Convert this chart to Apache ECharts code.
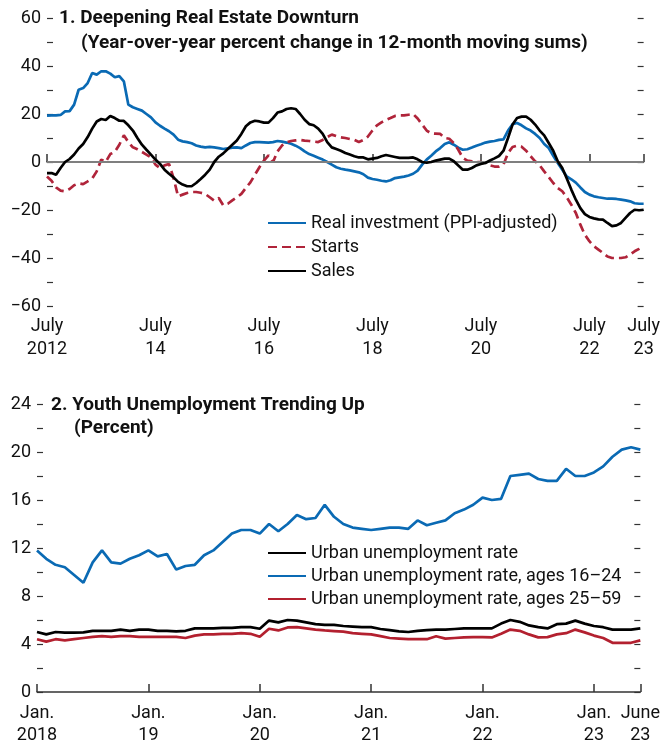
<!DOCTYPE html>
<html>
<head>
<meta charset="utf-8">
<script src="https://cdn.jsdelivr.net/npm/echarts@6/dist/echarts.min.js"></script>
<style>
  html, body { margin: 0; padding: 0; background: #fff; }
  #chart { width: 663px; height: 746px; }
</style>
</head>
<body>
<div id="chart"></div>
<script>
// ---- 数据 ----
// panel 1: monthly, July 2012 - July 2023
var months1 = [];
for (var i = 0; i < 133; i++) {
    var mm = 6 + i;
    var yy = 2012 + Math.floor(mm / 12);
    months1.push(yy + '-' + ('0' + (mm % 12 + 1)).slice(-2));
}
var investment = [
    19.3, 19.4, 19.4, 19.6, 21.1, 21.2, 23.9, 30.1, 30.8, 32.9, 37.1, 36.4, 37.8, 37.8, 36.8, 35.3, 35.8, 33.6,
    23.9, 22.8, 22.1, 21.4, 20.0, 18.6, 16.5, 15.1, 13.9, 12.8, 11.4, 9.3, 8.6, 8.3, 7.8, 6.9, 6.4, 6.1,
    6.3, 6.1, 5.8, 5.4, 5.7, 6.0, 6.1, 5.8, 6.9,
    7.9, 8.3, 8.3, 8.2, 8.1, 8.3, 8.75, 8.5, 8.1, 7.6, 6.8, 5.8, 4.4, 3.3, 2.6, 1.8, 1.0, 0.0,
    -1.1, -2.2, -2.8, -3.2, -3.5, -3.9, -4.3, -5.1, -6.5, -7.1, -7.4, -7.8, -8.1, -7.6, -6.7, -6.4,
    -6.1, -5.6, -4.9, -3.6, -1.1, 1.0, 2.6, 4.4, 5.8, 7.5,
    8.2, 7.2, 6.0, 5.1, 5.3, 6.0, 6.8, 7.4, 8.1, 8.5, 8.75, 9.2, 9.4, 13.1, 15.7, 16.25, 15.3, 14.0,
    13.1, 11.7, 10.0, 7.5, 5.8, 2.6, -0.4, -3.2, -6.0, -7.2, -8.6, -10.6, -12.5, -13.6, -14.3, -14.7,
    -15.0, -15.3, -15.3, -15.4, -15.7, -16.0, -16.4, -17.2, -17.4, -17.4
];
var starts = [
    -6, -7.8, -10.6, -11.9, -12.2, -11.25, -9.7, -8.9, -9.2, -8.1, -6.9, -3.9, 1, 0, 3.3, 4.2, 7.2, 11.1,
    8.3, 6.1, 5.3, 4.2, 3.1, 1.9, -1.1, -2.5, -1.4, -0.8, -6.7, -14.3, -13.6, -12.9, -12.5, -12.5, -12.8, -13.3,
    -14.7, -16.1, -15, -18.1, -17.4, -16, -14.7, -13.3, -10.8,
    -8.5, -5.3, -2.2, 0.6, 2.8, 0, 4.4, 6.9, 8.2, 8.75, 9, 9.2, 8.9, 8.75, 8.5, 8.3, 9.2, 10.4,
    11.4, 10.8, 10.3, 10, 9.6, 9.2, 8.3, 9.2, 10.6, 13.1, 15.3, 16.5, 17.5, 18.3, 19.2, 19.4,
    19.4, 19.7, 20, 18.1, 15.6, 13.1, 11.9, 11.8, 11.7, 10,
    9.7, 7.9, 5.1, 1.7, 0.6, 0.3, 0, 0, -0.3, -1.4, -1.9, -1.9, -1.1, 3.75, 6.25, 6.8, 6.4, 4.7,
    2.4, 0.3, -1.4, -3.9, -6.25, -8.75, -10.8, -12.2, -14.7, -17.8, -21.25, -26.1, -30.3, -33, -35.1, -36.5,
    -37.9, -39.4, -40, -40, -40, -39.7, -38.5, -37.2, -36.2, -35
];
var sales = [
    -4.6, -4.6, -5.3, -2.5, 0, 1.25, 3.1, 5.6, 7.5, 10.4, 13.9, 16.9, 17.9, 17.5, 19.2, 18.3, 17.2, 17.1,
    15.3, 13.1, 10, 7.2, 5.1, 3.1, 1, -0.8, -3.2, -4.9, -6.4, -8.3, -9.4, -10.1, -10.1, -8.75, -7.1, -5.3,
    -3.2, 0, 2.2, 3.6, 5.4, 7.2, 9, 11.7, 14.9,
    16.5, 17.2, 16.9, 16.4, 16.4, 18.3, 20.6, 21.1, 22.1, 22.4, 22.1, 20, 17.6, 15.8, 15.3, 13.9, 11.7, 8.3,
    6.1, 5.4, 4.7, 3.75, 3.1, 2.4, 1.9, 1.9, 1.1, 1.4, 1.7, 2.4, 2.9, 2.5, 2.1, 1.7,
    1.7, 1.7, 1.9, 1.1, 0, -0.3, 0, 0.6, 1, 1.4,
    1.4, 0.3, -1.5, -3.2, -3.2, -2.5, -1.4, -0.8, -0.4, 0.6, 1.5, 2.5, 4.7, 10, 15.6, 18.3, 18.9, 18.9,
    17.6, 15.6, 13.1, 11.1, 7.9, 4.7, 0.3, -2.5, -6.9, -11.5, -15.7, -19.2, -21.7, -22.9, -23.5, -23.9,
    -24, -25.4, -26.7, -26.4, -25.4, -23.3, -21.25, -19.9, -20.1, -19.9
];

// panel 2: monthly, Jan 2018 - June 2023
var months2 = [];
for (var j = 0; j < 66; j++) {
    months2.push((2018 + Math.floor(j / 12)) + '-' + ('0' + (j % 12 + 1)).slice(-2));
}
var urban = [
    5.0, 4.8, 5.0, 4.95, 4.95, 4.97, 5.1, 5.1, 5.1, 5.2, 5.1, 5.2, 5.2, 5.1, 5.1, 5.05, 5.1, 5.3, 5.3, 5.3, 5.35, 5.35, 5.4,
    5.4, 5.27, 5.95, 5.8, 6.0, 5.95, 5.8, 5.65, 5.6, 5.6, 5.5, 5.45, 5.4, 5.4, 5.25, 5.15, 5.05, 5.0, 5.1, 5.15, 5.2, 5.2,
    5.25, 5.3, 5.3, 5.3, 5.3, 5.7, 6.0, 5.85, 5.55, 5.4, 5.3, 5.65, 5.7, 5.95, 5.7, 5.5, 5.4, 5.2, 5.2, 5.2, 5.3
];
var youth = [
    11.8, 11.1, 10.6, 10.4, 9.75, 9.1, 10.8, 11.8, 10.8, 10.7, 11.1, 11.4, 11.8, 11.3, 11.5, 10.2, 10.5, 10.6,
    11.4, 11.8, 12.5, 13.2, 13.5, 13.5, 13.2, 14, 13.4, 14, 14.75, 14.4, 14.5, 15.6, 14.6, 14.0,
    13.7, 13.6, 13.5, 13.6, 13.7, 13.7, 13.6, 14.3, 13.9, 14.1, 14.3, 14.9, 15.2, 15.6, 16.2, 16, 16.1, 18,
    18.1, 18.2, 17.75, 17.6, 17.6, 18.6, 18, 18, 18.3, 18.8, 19.6, 20.2, 20.4, 20.2
];
var prime = [
    4.4, 4.2, 4.4, 4.3, 4.4, 4.5, 4.6, 4.65, 4.6, 4.65, 4.65, 4.6, 4.6, 4.6, 4.6, 4.6, 4.5, 4.7, 4.8, 4.8, 4.85, 4.85, 4.9,
    4.85, 4.6, 5.27, 5.13, 5.38, 5.4, 5.3, 5.2, 5.13, 5.08, 5.03, 4.9, 4.85, 4.8, 4.65, 4.5, 4.45, 4.4, 4.4, 4.4, 4.65, 4.45,
    4.5, 4.55, 4.57, 4.57, 4.55, 4.85, 5.2, 5.1, 4.8, 4.55, 4.57, 4.8, 4.9, 5.2, 4.97, 4.7, 4.5, 4.1, 4.1, 4.1, 4.3
];

var FONT = 'Roboto, sans-serif';
var BLUE = '#0a6ab4';
var RED = '#b0243a';
var AXIS = '#333';

function minus(v) {
    return v < 0 ? '\u2212' + (-v) : '' + v;
}

var chart = echarts.init(document.getElementById('chart'));

var titleStyle = { fontFamily: FONT, fontSize: 19, fontWeight: 'bold', color: '#111', lineHeight: 22 };
// legend: only the line, the circle symbol is hidden with opacity 0
var legendText = { fontFamily: FONT, fontSize: 18, lineHeight: 18, color: '#111' };

var option = {
    animation: false,
    backgroundColor: '#fff',
    textStyle: { fontFamily: FONT },
    title: [
        { text: '1. Deepening Real Estate Downturn', left: 59, top: 7, padding: 0, textStyle: titleStyle },
        { text: '(Year-over-year percent change in 12-month moving sums)', left: 81, top: 32, padding: 0, textStyle: titleStyle },
        { text: '2. Youth Unemployment Trending Up', left: 51, top: 394, padding: 0, textStyle: titleStyle },
        { text: '(Percent)', left: 74, top: 417, padding: 0, textStyle: titleStyle }
    ],
    legend: [
        {
            orient: 'vertical', left: 267, top: 214, padding: 0,
            itemWidth: 38, itemHeight: 14, itemGap: 6,
            itemStyle: { opacity: 0, borderWidth: 0 },
            textStyle: legendText,
            data: ['Real investment (PPI-adjusted)', 'Starts', 'Sales']
        },
        {
            orient: 'vertical', left: 267, top: 544, padding: 0,
            itemWidth: 38, itemHeight: 14, itemGap: 5,
            itemStyle: { opacity: 0, borderWidth: 0 },
            textStyle: legendText,
            data: ['Urban unemployment rate', 'Urban unemployment rate, ages 16\u201324', 'Urban unemployment rate, ages 25\u201359']
        }
    ],
    grid: [
        { left: 47, right: 16, top: 18, height: 288 },
        { left: 37, right: 19, top: 404, height: 288 }
    ],
    xAxis: [
        {
            type: 'category', gridIndex: 0, data: months1, boundaryGap: false,
            axisLine: { lineStyle: { color: AXIS, width: 1.5 } },
            axisTick: {
                inside: true, length: 8, lineStyle: { color: AXIS, width: 1.5 },
                interval: function (idx) { return idx % 24 === 0 || idx === 132; }
            },
            axisLabel: {
                interval: function (idx) { return idx % 24 === 0 || idx === 132; },
                formatter: function (value, idx) {
                    var y = value.slice(0, 4);
                    return 'July\n' + (idx === 0 ? y : y.slice(2));
                },
                fontFamily: FONT, fontSize: 18, lineHeight: 23, color: '#111', margin: 9
            },
            splitLine: { show: false }
        },
        {
            type: 'category', gridIndex: 1, data: months2, boundaryGap: false,
            axisLine: { lineStyle: { color: AXIS, width: 1.5 } },
            axisTick: {
                inside: true, length: 8, lineStyle: { color: AXIS, width: 1.5 },
                interval: function (idx) { return idx % 12 === 0 || idx === 65; }
            },
            axisLabel: {
                interval: function (idx) { return idx % 12 === 0 || idx === 65; },
                formatter: function (value, idx) {
                    var y = value.slice(0, 4);
                    if (idx === 65) return 'June\n23';
                    return 'Jan.\n' + (idx === 0 ? y : y.slice(2));
                },
                fontFamily: FONT, fontSize: 18, lineHeight: 22, color: '#111', margin: 10
            },
            splitLine: { show: false }
        }
    ],
    yAxis: [
        {
            type: 'value', gridIndex: 0, position: 'left', min: -60, max: 60, interval: 10,
            axisLine: { show: false },
            axisTick: { show: true, inside: true, length: 6, lineStyle: { color: AXIS, width: 1.2 } },
            axisLabel: {
                formatter: function (v) { return v % 20 === 0 ? minus(v) : ''; },
                fontFamily: FONT, fontSize: 18, color: '#111', margin: 6
            },
            splitLine: { show: false }
        },
        {
            type: 'value', gridIndex: 0, position: 'right', min: -60, max: 60, interval: 10,
            axisLine: { show: false },
            axisTick: { show: true, inside: true, length: 6, lineStyle: { color: AXIS, width: 1.2 } },
            axisLabel: { show: false },
            splitLine: { show: false }
        },
        {
            type: 'value', gridIndex: 1, position: 'left', min: 0, max: 24, interval: 2,
            axisLine: { show: false },
            axisTick: { show: true, inside: true, length: 6, lineStyle: { color: AXIS, width: 1.2 } },
            axisLabel: {
                formatter: function (v) { return v % 4 === 0 ? '' + v : ''; },
                fontFamily: FONT, fontSize: 18, color: '#111', margin: 6
            },
            splitLine: { show: false }
        },
        {
            type: 'value', gridIndex: 1, position: 'right', min: 0, max: 24, interval: 2,
            axisLine: { show: false },
            axisTick: { show: true, inside: true, length: 6, lineStyle: { color: AXIS, width: 1.2 } },
            axisLabel: { show: false },
            splitLine: { show: false }
        }
    ],
    series: [
        {
            name: 'Real investment (PPI-adjusted)', type: 'line', xAxisIndex: 0, yAxisIndex: 0,
            data: investment, symbol: 'none', z: 3,
            lineStyle: { color: BLUE, width: 2.7 }, itemStyle: { color: BLUE },
            markLine: {
                silent: true, symbol: ['none', 'none'], label: { show: false },
                lineStyle: { color: '#7f7f7f', width: 2, type: 'solid' },
                data: [{ yAxis: 0 }]
            }
        },
        {
            name: 'Starts', type: 'line', xAxisIndex: 0, yAxisIndex: 0,
            data: starts, symbol: 'none', z: 4,
            lineStyle: { color: RED, width: 2.7, type: [9, 5] }, itemStyle: { color: RED }
        },
        {
            name: 'Sales', type: 'line', xAxisIndex: 0, yAxisIndex: 0,
            data: sales, symbol: 'none', z: 5,
            lineStyle: { color: '#000', width: 2.7 }, itemStyle: { color: '#000' }
        },
        {
            name: 'Urban unemployment rate', type: 'line', xAxisIndex: 1, yAxisIndex: 2,
            data: urban, symbol: 'none', z: 5,
            lineStyle: { color: '#000', width: 2.7 }, itemStyle: { color: '#000' }
        },
        {
            name: 'Urban unemployment rate, ages 16\u201324', type: 'line', xAxisIndex: 1, yAxisIndex: 2,
            data: youth, symbol: 'none', z: 4,
            lineStyle: { color: BLUE, width: 2.7 }, itemStyle: { color: BLUE }
        },
        {
            name: 'Urban unemployment rate, ages 25\u201359', type: 'line', xAxisIndex: 1, yAxisIndex: 2,
            data: prime, symbol: 'none', z: 3,
            lineStyle: { color: '#b3202f', width: 2.7 }, itemStyle: { color: '#b3202f' }
        }
    ]
};

chart.setOption(option);
</script>
</body>
</html>
